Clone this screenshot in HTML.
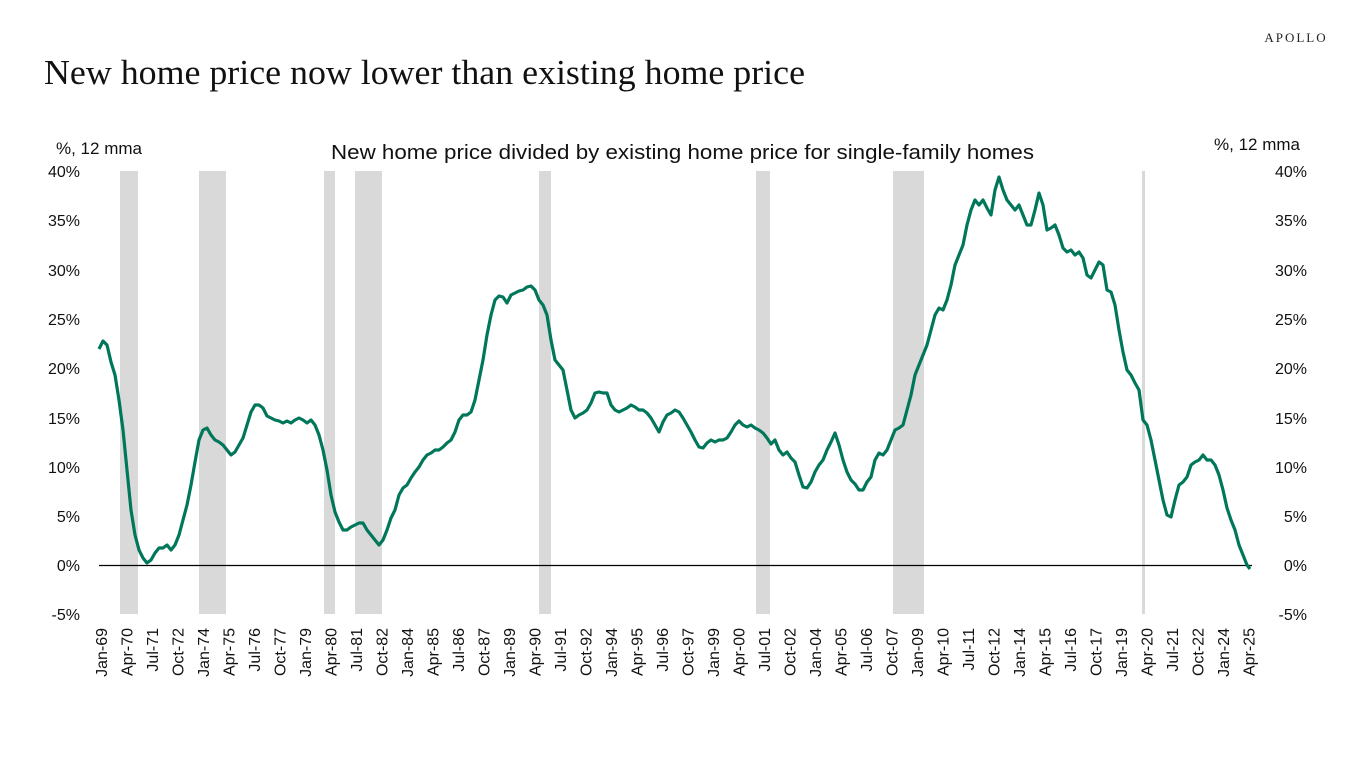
<!DOCTYPE html>
<html><head><meta charset="utf-8"><style>
html,body{margin:0;padding:0;background:#fff;width:1366px;height:768px;overflow:hidden}
</style></head><body>
<svg width="1366" height="768" xmlns="http://www.w3.org/2000/svg" font-family="Liberation Sans, sans-serif">
<text x="1296" y="42" font-family="Liberation Serif, serif" font-size="13" letter-spacing="2" text-anchor="middle" fill="#222">APOLLO</text>
<text x="44" y="84" font-family="Liberation Serif, serif" font-size="35" fill="#111" textLength="761" lengthAdjust="spacingAndGlyphs">New home price now lower than existing home price</text>
<text x="331" y="159" font-size="20" fill="#111" textLength="703" lengthAdjust="spacingAndGlyphs">New home price divided by existing home price for single-family homes</text>
<text x="56" y="154" font-size="17" fill="#111">%, 12 mma</text>
<text x="1300" y="150" font-size="17" text-anchor="end" fill="#111">%, 12 mma</text>
<g fill="#d9d9d9">
<rect x="120" y="171" width="18" height="443"/><rect x="199" y="171" width="27" height="443"/>
<rect x="324" y="171" width="11" height="443"/><rect x="355" y="171" width="27" height="443"/>
<rect x="539" y="171" width="12" height="443"/><rect x="756" y="171" width="14" height="443"/>
<rect x="893" y="171" width="31" height="443"/><rect x="1142" y="171" width="3" height="443"/>
</g>
<line x1="99" y1="565.5" x2="1252" y2="565.5" stroke="#000" stroke-width="1.3"/>
<g font-size="16" fill="#111" text-anchor="end">
<text x="80" y="177">40%</text><text x="80" y="226">35%</text><text x="80" y="276">30%</text><text x="80" y="325">25%</text><text x="80" y="374">20%</text><text x="80" y="424">15%</text><text x="80" y="473">10%</text><text x="80" y="522">5%</text><text x="80" y="571">0%</text><text x="80" y="620">-5%</text>
</g>
<g font-size="16" fill="#111" text-anchor="end">
<text x="1307" y="177">40%</text><text x="1307" y="226">35%</text><text x="1307" y="276">30%</text><text x="1307" y="325">25%</text><text x="1307" y="374">20%</text><text x="1307" y="424">15%</text><text x="1307" y="473">10%</text><text x="1307" y="522">5%</text><text x="1307" y="571">0%</text><text x="1307" y="620">-5%</text>
</g>
<g font-size="16" fill="#111" text-anchor="end">
<text transform="translate(107,628) rotate(-90)">Jan-69</text>
<text transform="translate(132.5,628) rotate(-90)">Apr-70</text>
<text transform="translate(158,628) rotate(-90)">Jul-71</text>
<text transform="translate(183.5,628) rotate(-90)">Oct-72</text>
<text transform="translate(209,628) rotate(-90)">Jan-74</text>
<text transform="translate(234.5,628) rotate(-90)">Apr-75</text>
<text transform="translate(260,628) rotate(-90)">Jul-76</text>
<text transform="translate(285.5,628) rotate(-90)">Oct-77</text>
<text transform="translate(311,628) rotate(-90)">Jan-79</text>
<text transform="translate(336.5,628) rotate(-90)">Apr-80</text>
<text transform="translate(362,628) rotate(-90)">Jul-81</text>
<text transform="translate(387.5,628) rotate(-90)">Oct-82</text>
<text transform="translate(413,628) rotate(-90)">Jan-84</text>
<text transform="translate(438.5,628) rotate(-90)">Apr-85</text>
<text transform="translate(464,628) rotate(-90)">Jul-86</text>
<text transform="translate(489.5,628) rotate(-90)">Oct-87</text>
<text transform="translate(515,628) rotate(-90)">Jan-89</text>
<text transform="translate(540.5,628) rotate(-90)">Apr-90</text>
<text transform="translate(566,628) rotate(-90)">Jul-91</text>
<text transform="translate(591.5,628) rotate(-90)">Oct-92</text>
<text transform="translate(617,628) rotate(-90)">Jan-94</text>
<text transform="translate(642.5,628) rotate(-90)">Apr-95</text>
<text transform="translate(668,628) rotate(-90)">Jul-96</text>
<text transform="translate(693.5,628) rotate(-90)">Oct-97</text>
<text transform="translate(719,628) rotate(-90)">Jan-99</text>
<text transform="translate(744.5,628) rotate(-90)">Apr-00</text>
<text transform="translate(770,628) rotate(-90)">Jul-01</text>
<text transform="translate(795.5,628) rotate(-90)">Oct-02</text>
<text transform="translate(821,628) rotate(-90)">Jan-04</text>
<text transform="translate(846.5,628) rotate(-90)">Apr-05</text>
<text transform="translate(872,628) rotate(-90)">Jul-06</text>
<text transform="translate(897.5,628) rotate(-90)">Oct-07</text>
<text transform="translate(923,628) rotate(-90)">Jan-09</text>
<text transform="translate(948.5,628) rotate(-90)">Apr-10</text>
<text transform="translate(974,628) rotate(-90)">Jul-11</text>
<text transform="translate(999.5,628) rotate(-90)">Oct-12</text>
<text transform="translate(1025,628) rotate(-90)">Jan-14</text>
<text transform="translate(1050.5,628) rotate(-90)">Apr-15</text>
<text transform="translate(1076,628) rotate(-90)">Jul-16</text>
<text transform="translate(1101.5,628) rotate(-90)">Oct-17</text>
<text transform="translate(1127,628) rotate(-90)">Jan-19</text>
<text transform="translate(1152.5,628) rotate(-90)">Apr-20</text>
<text transform="translate(1178,628) rotate(-90)">Jul-21</text>
<text transform="translate(1203.5,628) rotate(-90)">Oct-22</text>
<text transform="translate(1229,628) rotate(-90)">Jan-24</text>
<text transform="translate(1254.5,628) rotate(-90)">Apr-25</text>
</g>
<polyline fill="none" stroke="#00775a" stroke-width="3.2" stroke-linejoin="round" points="99,349 103,341 107,345 111,362 115,375 119,400 123,430 127,470 131,510 135,535 139,550 143,558 147,563 151,560 155,553 159,548 163,548 167,545 171,550 175,545 179,535 183,520 187,505 191,485 195,462 199,440 203,430 207,428 211,435 215,440 219,442 223,445 227,450 231,455 235,452 239,445 243,438 247,425 251,412 255,405 259,405 263,408 267,416 271,418 275,420 279,421 283,423 287,421 291,423 295,420 299,418 303,420 307,423 311,420 315,425 319,435 323,450 327,470 331,495 335,512 339,522 343,530 347,530 351,527 355,525 359,523 363,523 367,530 371,535 375,540 379,545 383,540 387,530 391,518 395,510 399,495 403,488 407,485 411,478 415,472 419,467 423,460 427,455 431,453 435,450 439,450 443,447 447,443 451,440 455,432 459,420 463,415 467,415 471,412 475,400 479,380 483,360 487,335 491,315 495,300 499,296 503,297 507,303 511,295 515,293 519,291 523,290 527,287 531,286 535,290 539,300 543,305 547,315 551,340 555,360 559,365 563,370 567,390 571,410 575,418 579,415 583,413 587,410 591,403 595,393 599,392 603,393 607,393 611,405 615,410 619,412 623,410 627,408 631,405 635,407 639,410 643,410 647,413 651,418 655,425 659,432 663,422 667,415 671,413 675,410 679,412 683,418 687,425 691,432 695,440 699,447 703,448 707,443 711,440 715,442 719,440 723,440 727,438 731,432 735,425 739,421 743,425 747,427 751,425 755,428 759,430 763,433 767,438 771,444 775,440 779,450 783,455 787,452 791,458 795,462 799,475 803,487 807,488 811,482 815,472 819,465 823,460 827,450 831,442 835,433 839,445 843,460 847,472 851,480 855,484 859,490 863,490 867,482 871,477 875,460 879,453 883,455 887,450 891,440 895,430 899,428 903,425 907,410 911,395 915,375 919,365 923,355 927,345 931,330 935,315 939,308 943,310 947,300 951,285 955,265 959,255 963,245 967,225 971,210 975,200 979,205 983,200 987,208 991,215 995,190 999,177 1003,190 1007,200 1011,205 1015,210 1019,205 1023,215 1027,225 1031,225 1035,210 1039,193 1043,205 1047,230 1051,228 1055,225 1059,235 1063,248 1067,252 1071,250 1075,255 1079,252 1083,258 1087,275 1091,278 1095,270 1099,262 1103,265 1107,290 1111,292 1115,305 1119,330 1123,352 1127,370 1131,375 1135,383 1139,390 1143,420 1147,425 1151,440 1155,460 1159,480 1163,500 1167,515 1171,517 1175,500 1179,485 1183,482 1187,477 1191,465 1195,462 1199,460 1203,455 1207,460 1211,460 1215,465 1219,475 1223,490 1227,508 1231,520 1235,530 1239,545 1243,555 1247,565 1250,569"/>
</svg>
</body></html>
